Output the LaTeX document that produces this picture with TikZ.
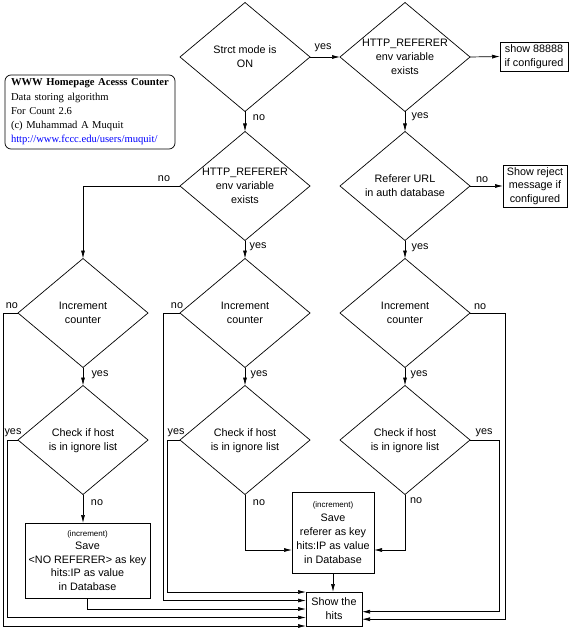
\documentclass[tikz,border=0pt]{standalone}
\usepackage{fontspec}
\setmainfont{Liberation Sans}
\newfontfamily\serifrm{Liberation Serif}
\usetikzlibrary{shapes.geometric,arrows.meta,calc}
\newcommand\dtxt[1]{\makebox[0pt]{\smash{\raisebox{-3.4pt}{\begin{tabular}{@{}c@{}}#1\end{tabular}}}}}
\begin{document}
\begin{tikzpicture}[x=1pt,y=-1pt,
  every node/.style={font=\fontsize{10.8}{14}\selectfont, outer sep=0pt},
  dia/.style={draw, diamond, inner sep=0pt, minimum width=130pt, minimum height=109pt, line width=0.7pt},
  box/.style={draw, rectangle, align=center, inner sep=1pt, line width=0.7pt},
  arr/.style={-{Latex[length=8pt,width=4pt]}, line width=0.7pt},
  lbl/.style={inner sep=0pt}
]
\useasboundingbox (0,0) rectangle (570,628);

% info box
\node[draw, rounded corners=6pt, line width=0.7pt, text width=158pt, inner xsep=6pt, inner ysep=3.5pt,
      minimum height=74pt, align=left, font=\serifrm\fontsize{10.6}{14.2}\selectfont] (info) at (90,112)
  {\textbf{WWW Homepage Acesss Counter}\\Data storing algorithm\\For Count 2.6\\(c) Muhammad A Muquit\\\textcolor{blue}{http://www.fccc.edu/users/muquit/}};

% diamonds
\node[dia] (d1) at (245,57) {\dtxt{Strct mode is\\ON}};
\node[dia] (d2) at (405,57) {\dtxt{HTTP\_REFERER\\env variable\\exists}};
\node[dia] (d3) at (245,186) {\dtxt{HTTP\_REFERER\\env variable\\exists}};
\node[dia] (d4) at (405,186) {\dtxt{Referer URL\\in auth database}};
\node[dia] (inc1) at (83,313) {\dtxt{Increment\\counter}};
\node[dia] (inc2) at (245,313) {\dtxt{Increment\\counter}};
\node[dia] (inc3) at (405,313) {\dtxt{Increment\\counter}};
\node[dia] (chk1) at (83,440) {\dtxt{Check if host\\is in ignore list}};
\node[dia] (chk2) at (245,440) {\dtxt{Check if host\\is in ignore list}};
\node[dia] (chk3) at (405,440) {\dtxt{Check if host\\is in ignore list}};

% boxes
\node[box, minimum width=68pt, minimum height=29pt] (b88) at (534,56.5) {show 88888\\if configured};
\node[box, minimum width=64pt, minimum height=42pt, font=\fontsize{10.8}{13.5}\selectfont] (rej) at (535,186) {Show reject\\message if\\configured};
\node[box, minimum width=125pt, minimum height=75pt, font=\fontsize{10.8}{13.5}\selectfont] (save1) at (87.5,560.5)
  {{\fontsize{8}{11}\selectfont (increment)}\\Save\\{<}NO REFERER{>} as key\\hits:IP as value\\in Database};
\node[box, minimum width=82pt, minimum height=81pt, font=\fontsize{10.8}{14}\selectfont] (save2) at (333,532.5)
  {{\fontsize{8}{11}\selectfont (increment)}\\Save\\referer as key\\hits:IP as value\\in Database};
\node[box, minimum width=56pt, minimum height=34pt] (hits) at (334,609) {Show the\\hits};

% coordinates on the hits box
\coordinate (h1) at (hits.north west);
\coordinate (h2) at ($(hits.north west)!0.25!(hits.south west)$);
\coordinate (h3) at ($(hits.north west)!0.5!(hits.south west)$);
\coordinate (h4) at ($(hits.north west)!0.75!(hits.south west)$);
\coordinate (h5) at (hits.south west);
\coordinate (r1) at ($(hits.north east)!0.58!(hits.south east)$);
\coordinate (r2) at ($(hits.north east)!0.80!(hits.south east)$);
\coordinate (s2l) at ($(save2.north west)!0.716!(save2.south west)$);
\coordinate (s2r) at ($(save2.north east)!0.716!(save2.south east)$);

% connectors
\draw[arr] (d1.east) -- (d2.west);
\draw[arr] (d1.south) -- (d3.north);
\draw[arr] (d2.east) -- (b88.west);
\draw[arr] (d2.south) -- (d4.north);
\draw[arr] (d3.west) -| (inc1.north);
\draw[arr] (d3.south) -- (inc2.north);
\draw[arr] (d4.east) -- (rej.west);
\draw[arr] (d4.south) -- (inc3.north);
\draw[arr] (inc1.south) -- (chk1.north);
\draw[arr] (inc2.south) -- (chk2.north);
\draw[arr] (inc3.south) -- (chk3.north);
\draw[arr] (chk1.south) -- (chk1.south |- save1.north);
\draw[arr] (chk2.south) |- (s2l);
\draw[arr] (chk3.south) |- (s2r);
\draw[arr] (save2.south) -- (save2.south |- hits.north);
\draw[arr] (save1.south) |- (h3);
\draw[arr] (inc1.west) -- ++(-15,0) |- (h5);
\draw[arr] (chk1.west) -- ++(-11,0) |- (h4);
\draw[arr] (inc2.west) -- ++(-17,0) |- (h2);
\draw[arr] (chk2.west) -- ++(-13,0) |- (h1);
\draw[arr] (inc3.east) -- ++(35,0) |- (r2);
\draw[arr] (chk3.east) -- ++(29,0) |- (r1);

% labels
\node[lbl] (ly1) at (323,48) {yes};
\node[lbl] (ln1) at (259,118) {no};
\node[lbl] (ly2) at (420,117) {yes};
\node[lbl] (ln2) at (164,179) {no};
\node[lbl] (ly3) at (258,247) {yes};
\node[lbl] (ln3) at (482,180) {no};
\node[lbl] (ly4) at (420,248) {yes};
\node[lbl] (ln4) at (12,306) {no};
\node[lbl] (ln5) at (177,306) {no};
\node[lbl] (ln6) at (480,307) {no};
\node[lbl] (ly5) at (100,375) {yes};
\node[lbl] (ly6) at (259,375) {yes};
\node[lbl] (ly7) at (419,375) {yes};
\node[lbl] (ly8) at (13,433) {yes};
\node[lbl] (ly9) at (176,433) {yes};
\node[lbl] (ly10) at (484,433) {yes};
\node[lbl] (ln7) at (97,503) {no};
\node[lbl] (ln8) at (259,503) {no};
\node[lbl] (ln9) at (416,501) {no};
\end{tikzpicture}
\end{document}
